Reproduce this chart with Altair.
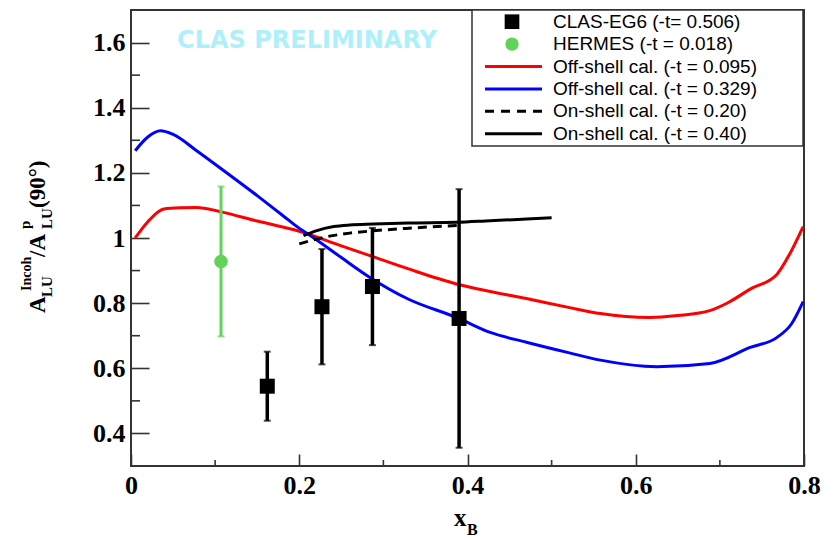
import altair as alt
import pandas as pd

# ---- data ---------------------------------------------------------------
# Off-shell calculation, -t = 0.095 (red)
red_x = [0.005, 0.02, 0.039, 0.06, 0.078, 0.106, 0.15, 0.201, 0.25, 0.284, 0.33,
         0.387, 0.427, 0.47, 0.52, 0.558, 0.617, 0.65, 0.688, 0.71, 0.736, 0.768,
         0.783, 0.799]
red_y = [1.0, 1.05, 1.089, 1.093, 1.094, 1.081, 1.052, 1.020, 0.976, 0.946, 0.905,
         0.859, 0.836, 0.814, 0.787, 0.768, 0.756, 0.762, 0.777, 0.802, 0.843, 0.889,
         0.951, 1.035]

# Off-shell calculation, -t = 0.329 (blue)
blue_x = [0.005, 0.02, 0.035, 0.05, 0.078, 0.106, 0.15, 0.18, 0.201, 0.213, 0.25,
          0.284, 0.33, 0.387, 0.427, 0.47, 0.52, 0.558, 0.625, 0.688, 0.736, 0.768,
          0.785, 0.799]
blue_y = [1.268, 1.31, 1.329, 1.318, 1.268, 1.215, 1.13, 1.07, 1.028, 1.008, 0.94,
          0.879, 0.812, 0.756, 0.710, 0.680, 0.648, 0.625, 0.605, 0.615, 0.664, 0.695,
          0.736, 0.805]

# On-shell calculation, -t = 0.20 (dashed) and -t = 0.40 (solid)
on20_x = [0.2, 0.229, 0.26, 0.288, 0.33, 0.39]
on20_y = [0.982, 1.002, 1.015, 1.022, 1.030, 1.039]
on40_x = [0.205, 0.22, 0.241, 0.26, 0.288, 0.33, 0.387, 0.427, 0.46, 0.5]
on40_y = [1.007, 1.022, 1.035, 1.040, 1.043, 1.046, 1.048, 1.053, 1.057, 1.062]

# CLAS-EG6 measurements
clas_x = [0.162, 0.227, 0.287, 0.390]
clas_y = [0.545, 0.789, 0.851, 0.753]
clas_err = [0.106, 0.177, 0.180, 0.397]

# HERMES measurement
hermes_x = [0.107]
hermes_y = [0.928]
hermes_err = [0.230]

x_major = [0, 0.2, 0.4, 0.6, 0.8]
x_minor = [0.1, 0.3, 0.5, 0.7]
y_major = [0.4, 0.6, 0.8, 1.0, 1.2, 1.4, 1.6]
y_minor = [0.5, 0.7, 0.9, 1.1, 1.3, 1.5]

legend_labels = ["CLAS-EG6 (-t= 0.506)", "HERMES (-t = 0.018)",
                 "Off-shell cal. (-t = 0.095)", "Off-shell cal. (-t = 0.329)",
                 "On-shell cal. (-t = 0.20)", "On-shell cal. (-t = 0.40)"]

# ---- layout -------------------------------------------------------------
W, H = 673, 456
SERIF = "Liberation Serif"
SANS = "Liberation Sans"
FRAME = "#333333"
GREEN = "#5fd35a"

xs = alt.Scale(domain=[0.0, 0.8], nice=False, zero=False)
ys = alt.Scale(domain=[0.3, 1.7], nice=False, zero=False)
# axes are pulled inside the frame by their tick length, so the ticks point inward
x_axis = alt.Axis(values=x_major, format="~g", title=None, ticks=True, tickSize=12,
                  offset=-12, tickColor=FRAME, tickWidth=1.6, domain=False,
                  grid=False, labelPadding=6, labelFlush=False)
y_axis = alt.Axis(values=y_major, format="~g", title=None, ticks=True, tickSize=18,
                  offset=-18, tickColor=FRAME, tickWidth=1.6, domain=False,
                  grid=False, labelPadding=6, labelFlush=False)


def X(field):
    return alt.X(field, type="quantitative", scale=xs, axis=x_axis)


def Y(field):
    return alt.Y(field, type="quantitative", scale=ys, axis=y_axis)


def curve(xv, yv, color, dash=None):
    df = pd.DataFrame({"x": xv, "y": yv})
    kw = dict(color=color, strokeWidth=3, interpolate="monotone")
    if dash:
        kw["strokeDash"] = dash
    return alt.Chart(df).mark_line(**kw).encode(x=X("x"), y=Y("y"), order="x:Q")


red = curve(red_x, red_y, "#ff0000")
blue = curve(blue_x, blue_y, "#0000ff")
on20 = curve(on20_x, on20_y, "black", dash=[9, 6])
on40 = curve(on40_x, on40_y, "black")


def points(xv, yv, err, color, shape, size, width):
    df = pd.DataFrame({"x": xv, "y": yv, "e": err})
    df["lo"] = df["y"] - df["e"]
    df["hi"] = df["y"] + df["e"]
    bars = alt.Chart(df).mark_rule(color=color, strokeWidth=width).encode(
        x=X("x"), y=Y("lo"), y2="hi")
    cap_lo = alt.Chart(df).mark_tick(color=color, orient="horizontal", size=7,
                                     thickness=2).encode(x=X("x"), y=Y("lo"))
    cap_hi = alt.Chart(df).mark_tick(color=color, orient="horizontal", size=7,
                                     thickness=2).encode(x=X("x"), y=Y("hi"))
    marks = alt.Chart(df).mark_point(shape=shape, filled=True, opacity=1,
                                     color=color, size=size).encode(x=X("x"), y=Y("y"))
    return bars + cap_lo + cap_hi + marks


clas = points(clas_x, clas_y, clas_err, "black", "square", 225, 3.5)
hermes = points(hermes_x, hermes_y, hermes_err, GREEN, "circle", 185, 3)


# short minor ticks along the left and bottom edges, lengths in pixels
def x_ticks(values, length):
    df = pd.DataFrame({"x": values})
    return alt.Chart(df).mark_rule(color=FRAME, strokeWidth=1.6).encode(
        x=X("x"), y=alt.value(H - length), y2=alt.value(H))


def y_ticks(values, length):
    df = pd.DataFrame({"y": values})
    return alt.Chart(df).mark_rule(color=FRAME, strokeWidth=1.6).encode(
        y=Y("y"), x=alt.value(0), x2=alt.value(length))


minor_ticks = x_ticks(x_minor, 6) + y_ticks(y_minor, 9)


def label(text, x, y, size, font=SERIF, weight="bold", angle=0, color="black",
          align="left", baseline="alphabetic"):
    kw = dict(font=font, fontSize=size, fontWeight=weight, color=color,
              align=align, baseline=baseline)
    if angle:
        kw["angle"] = angle
    return alt.Chart(pd.DataFrame({"t": [text]})).mark_text(**kw).encode(
        text="t:N", x=alt.value(x), y=alt.value(y))


watermark = label("CLAS PRELIMINARY", 176, 31, 24, font="DejaVu Sans",
                  color="#aef0fa", align="center", baseline="middle")

# y-axis title: A_LU^Incoh / A_LU^p (90°), rotated
ytitle = (
    label("A", -86, 303, 23, angle=270)
    + label("LU", -79, 287, 15, angle=270)
    + label("Incoh", -100, 281, 14, angle=270)
    + label("/A", -86, 247, 23, angle=270)
    + label("p", -101, 219, 15, angle=270)
    + label("LU", -79, 219, 15, angle=270)
    + label("(90°)", -86, 198, 23, angle=270)
)

# x-axis title: x_B
xtitle = label("x", 323, 516, 25) + label("B", 336, 525, 16)

# legend box
LX0, LX1, LY1 = 341, 672, 136
row_y = [11.7 + 22.4 * i for i in range(6)]
box = alt.Chart(pd.DataFrame({"a": [0]})).mark_rect(
    fill="white", stroke=FRAME, strokeWidth=1.5).encode(
    x=alt.value(LX0), x2=alt.value(LX1), y=alt.value(0), y2=alt.value(LY1))

leg = box
for lab, yy in zip(legend_labels, row_y):
    leg = leg + label(lab, 422, yy, 19, font=SANS, weight="normal", baseline="middle")

one = pd.DataFrame({"a": [0]})
leg = leg + alt.Chart(one).mark_point(shape="square", filled=True, opacity=1,
                                      color="black", size=215).encode(
    x=alt.value(381), y=alt.value(row_y[0]))
leg = leg + alt.Chart(one).mark_point(shape="circle", filled=True, opacity=1,
                                      color=GREEN, size=180).encode(
    x=alt.value(381), y=alt.value(row_y[1]))
for col, yy, dash in [("#ff0000", row_y[2], None), ("#0000ff", row_y[3], None),
                      ("black", row_y[4], [9, 7]), ("black", row_y[5], None)]:
    kw = dict(color=col, strokeWidth=3)
    if dash:
        kw["strokeDash"] = dash
    leg = leg + alt.Chart(one).mark_rule(**kw).encode(
        x=alt.value(354), x2=alt.value(411), y=alt.value(yy))

chart = (
    red + blue + on20 + on40 + hermes + clas
    + watermark + ytitle + xtitle + minor_ticks + leg
).properties(
    width=W, height=H,
    autosize=alt.AutoSizeParams(type="none"),
    padding={"left": 131, "top": 10, "right": 31, "bottom": 74},
    background="white",
).configure_view(
    stroke=FRAME, strokeWidth=2,
).configure_axis(
    labelFont=SERIF, labelFontSize=26, labelFontWeight="bold", labelColor="black",
)

chart.save("out.html", embed_options={"renderer": "svg", "actions": False})
